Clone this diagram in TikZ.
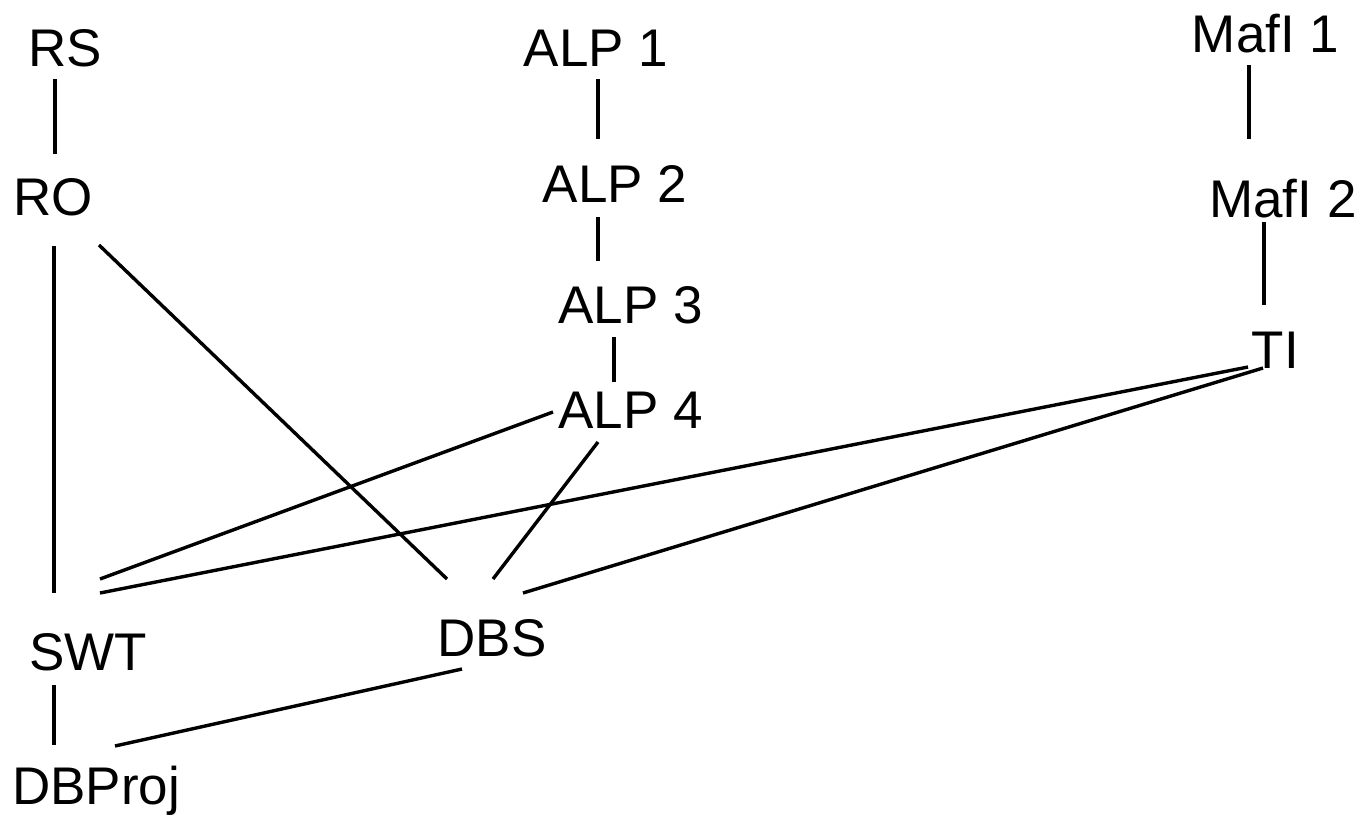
\documentclass[tikz,border=0pt]{standalone}
\usepackage{fontspec}
\setmainfont{Liberation Sans}
\begin{document}
\begin{tikzpicture}[x=1pt,y=-1pt,
  lbl/.style={inner sep=0pt,anchor=base,font=\fontsize{53}{60}\selectfont},
  con/.style={line width=3.4pt,black}]
\useasboundingbox (0,0) rectangle (1356,814);
% nodes
\node[lbl] (RS) at (65,66) {RS};
\node[lbl] (RO) at (53,215) {RO};
\node[lbl] (ALP1) at (596,66) {ALP 1};
\node[lbl] (ALP2) at (615,202) {ALP 2};
\node[lbl] (ALP3) at (630.5,323) {ALP 3};
\node[lbl] (ALP4) at (630.5,428) {ALP 4};
\node[lbl] (SWT) at (88,670) {SWT};
\node[lbl] (DBS) at (492,656) {DBS};
\node[lbl] (DBProj) at (96,804) {DBProj};
\node[lbl] (MafI1) at (1265.5,52) {MafI 1};
\node[lbl] (MafI2) at (1283,217) {MafI 2};
\node[lbl] (TI) at (1275.5,368) {TI};
% connectors
\draw[con] ([shift={(-10,13)}]RS.base) -- ([shift={(2,-61)}]RO.base);
\draw[con] ([shift={(2,13)}]ALP1.base) -- ([shift={(-17,-63)}]ALP2.base);
\draw[con] ([shift={(-17,15)}]ALP2.base) -- ([shift={(-32.5,-62)}]ALP3.base);
\draw[con] ([shift={(-16.5,14)}]ALP3.base) -- ([shift={(-16.5,-46)}]ALP4.base);
\draw[con] ([shift={(1,31)}]RO.base) -- ([shift={(-34,-77)}]SWT.base);
\draw[con] ([shift={(46,30)}]RO.base) -- ([shift={(-45,-77)}]DBS.base);
\draw[con] ([shift={(-77.5,-16)}]ALP4.base) -- ([shift={(12,-91)}]SWT.base);
\draw[con] ([shift={(-32.5,14)}]ALP4.base) -- ([shift={(1,-77)}]DBS.base);
\draw[con] ([shift={(-27.5,-1)}]TI.base) -- ([shift={(12,-77)}]SWT.base);
\draw[con] ([shift={(-12.5,0)}]TI.base) -- ([shift={(31,-63)}]DBS.base);
\draw[con] ([shift={(-34,15)}]SWT.base) -- ([shift={(-42,-59)}]DBProj.base);
\draw[con] ([shift={(-30,13)}]DBS.base) -- ([shift={(19,-58)}]DBProj.base);
\draw[con] ([shift={(-16.5,13)}]MafI1.base) -- ([shift={(-34,-78)}]MafI2.base);
\draw[con] ([shift={(-19,5)}]MafI2.base) -- ([shift={(-11.5,-63)}]TI.base);
\end{tikzpicture}
\end{document}
